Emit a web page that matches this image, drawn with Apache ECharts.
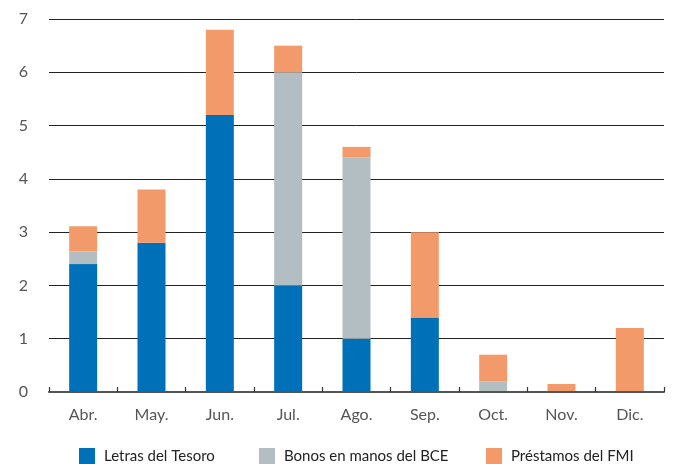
<!DOCTYPE html>
<html>
<head>
<meta charset="utf-8">
<script src="https://cdn.jsdelivr.net/npm/echarts@6/dist/echarts.min.js"></script>
<style>
  html, body { margin: 0; padding: 0; background: #fff; }
  #chart { width: 681px; height: 464px; }
</style>
</head>
<body>
<div id="chart"></div>
<script>
// Monthly breakdown (stacked): treasury bills, ECB-held bonds, IMF loans
const months = ['Abr.', 'May.', 'Jun.', 'Jul.', 'Ago.', 'Sep.', 'Oct.', 'Nov.', 'Dic.'];
const letrasTesoro = [2.4, 2.8, 5.2, 2.0, 1.0, 1.4, 0, 0, 0];
const bonosBCE = [0.24, 0, 0, 4.0, 3.4, 0, 0.2, 0, 0];
const prestamosFMI = [0.47, 1.0, 1.6, 0.5, 0.2, 1.6, 0.5, 0.15, 1.2];
const yTicks = [0, 1, 2, 3, 4, 5, 6, 7];

const seriesNames = ['Letras del Tesoro', 'Bonos en manos del BCE', 'Préstamos del FMI'];
const seriesColors = ['#0070b8', '#b3bec2', '#f39a6a'];
const seriesData = [letrasTesoro, bonosBCE, prestamosFMI];

const FONT = 'Lato, "Open Sans", sans-serif';

const chart = echarts.init(document.getElementById('chart'), null, { renderer: 'canvas' });

const legendLefts = [79, 259, 486];

chart.setOption({
  animation: false,
  backgroundColor: '#ffffff',
  grid: { left: 49, right: 17, top: 19, bottom: 72, containLabel: false },
  legend: seriesNames.map((name, i) => ({
    data: [name],
    left: legendLefts[i],
    top: 448,
    padding: 0,
    icon: 'rect',
    itemWidth: 16,
    itemHeight: 16,
    selectedMode: false,
    textStyle: { fontFamily: FONT, fontSize: 15, color: '#222', padding: [0, 0, 0, 4] }
  })),
  xAxis: {
    type: 'category',
    data: months,
    axisLine: { show: true, lineStyle: { color: '#555', width: 2 } },
    axisTick: { show: true, inside: true, length: 5, lineStyle: { color: '#333', width: 1.2 } },
    axisLabel: { fontFamily: FONT, fontSize: 16, color: '#555', margin: 15 },
    z: 10
  },
  yAxis: {
    type: 'value',
    min: yTicks[0],
    max: yTicks[yTicks.length - 1],
    interval: 1,
    axisLine: { show: false },
    axisTick: { show: false },
    axisLabel: { fontFamily: FONT, fontSize: 16, color: '#555', margin: 21 },
    splitLine: { show: true, lineStyle: { color: '#222', width: 1 } }
  },
  series: seriesNames.map((name, i) => ({
    name: name,
    type: 'bar',
    stack: 'total',
    barWidth: 28,
    itemStyle: { color: seriesColors[i] },
    data: seriesData[i]
  }))
});
</script>
</body>
</html>
